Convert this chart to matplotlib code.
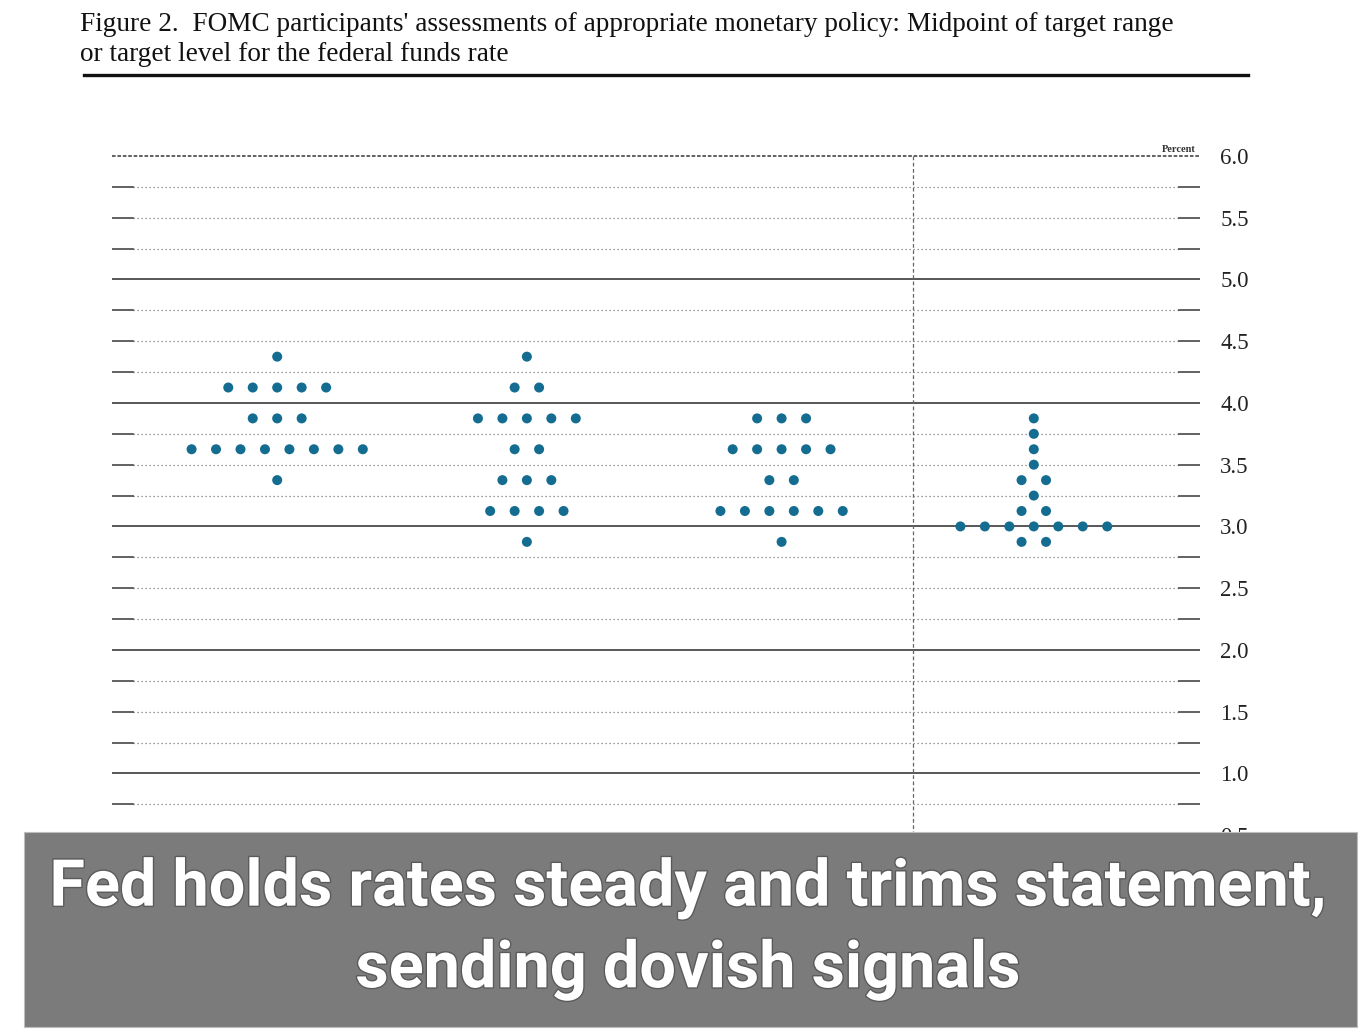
import matplotlib
matplotlib.use("Agg")
import matplotlib.pyplot as plt
import matplotlib.patheffects as pe
from matplotlib.lines import Line2D
from matplotlib.patches import Rectangle
import numpy as np

# ---------------- data ----------------
title_text = ("Figure 2.  FOMC participants' assessments of appropriate monetary policy: Midpoint of target range\n"
              "or target level for the federal funds rate")
banner_text = "Fed holds rates steady and trims statement,\nsending dovish signals"

col1_rates = [4.375, 4.125, 3.875, 3.625, 3.375]
col1_counts = [1, 5, 3, 8, 1]
col2_rates = [4.375, 4.125, 3.875, 3.625, 3.375, 3.125, 2.875]
col2_counts = [1, 2, 5, 2, 3, 4, 1]
col3_rates = [3.875, 3.625, 3.375, 3.125, 2.875]
col3_counts = [3, 5, 2, 6, 1]
col4_rates = [3.875, 3.75, 3.625, 3.5, 3.375, 3.25, 3.125, 3.0, 2.875]
col4_counts = [1, 1, 1, 1, 2, 1, 2, 7, 2]

column_positions = [1, 1.99, 3, 4]
label_ticks = [0.5, 1.0, 1.5, 2.0, 2.5, 3.0, 3.5, 4.0, 4.5, 5.0, 5.5, 6.0]
major_lines = [1.0, 2.0, 3.0, 4.0, 5.0]
minor_lines = [0.75, 1.25, 1.5, 1.75, 2.25, 2.5, 2.75, 3.25, 3.5, 3.75,
               4.25, 4.5, 4.75, 5.25, 5.5, 5.75]
top_line = 6.0
divider_x = 3.52

# ---------------- figure ----------------
W, H = 1364, 1033
fig = plt.figure(figsize=(W / 100, H / 100), dpi=100)
fig.patch.set_facecolor("white")

def fx(px):
    return px / W

def fy(py):
    return 1 - py / H

ax_left, ax_right, ax_top, ax_bottom = 112, 1200, 156, 866
ax = fig.add_axes([fx(ax_left), fy(ax_bottom), fx(ax_right - ax_left), (ax_bottom - ax_top) / H])
ax.set_xlim(0.345, 4.659)
ax.set_ylim(0.25, 6.0)
for s in ax.spines.values():
    s.set_visible(False)
ax.set_xticks([])

# right-hand labels
ax.yaxis.tick_right()
ax.set_yticks(label_ticks)
ax.set_yticklabels([f"{v:.1f}" for v in label_ticks])
ax.tick_params(axis="y", length=0, pad=14.5, labelsize=16.5, labelcolor="#222222")
for lab in ax.get_yticklabels():
    lab.set_family("Liberation Serif")

# gridlines
ax.axhline(top_line, color="#555555", lw=1.3, ls=(0, (2, 1)), clip_on=False, zorder=1)
for v in major_lines:
    ax.axhline(v, color="#4a4a4a", lw=1.3, zorder=1)
tick_frac = 21 / (ax_right - ax_left)
for v in minor_lines:
    ax.axhline(v, xmin=tick_frac, xmax=1 - tick_frac, color="#7a7a7a", lw=0.9,
               ls=(0, (1, 2.2)), zorder=1)
    ax.axhline(v, xmin=0, xmax=tick_frac, color="#555555", lw=1.3, zorder=1)
    ax.axhline(v, xmin=1 - tick_frac, xmax=1, color="#555555", lw=1.3, zorder=1)

ax.axvline(divider_x, color="#666666", lw=0.9, ls=(0, (3, 2)), zorder=1)

# dots
spacing = 0.097
dot_color = "#146d91"
columns = [(col1_rates, col1_counts), (col2_rates, col2_counts),
           (col3_rates, col3_counts), (col4_rates, col4_counts)]
for xc, (rates, counts) in zip(column_positions, columns):
    xs, ys = [], []
    for r, n in zip(rates, counts):
        for i in range(n):
            xs.append(xc + (i - (n - 1) / 2) * spacing)
            ys.append(r)
    ax.scatter(xs, ys, s=52, color=dot_color, edgecolor="none", zorder=3)

ax.text(0.996, 6.02, "Percent", transform=ax.get_yaxis_transform(), ha="right", va="bottom",
        fontsize=7.5, family="Liberation Serif", fontweight="bold", color="#333333")

# title
fig.text(fx(80), fy(12), title_text, ha="left", va="top", fontsize=19.6,
         family="Liberation Serif", color="#111111", linespacing=1.25)
fig.add_artist(Line2D([fx(84), fx(1248)], [fy(75), fy(75)], color="#111111", lw=2.4))

# banner
fig.add_artist(Rectangle((fx(24), fy(1027)), fx(1357 - 24), (1027 - 832) / H,
                         facecolor="#7b7b7b", edgecolor="#bdbdbd", lw=0.8, zorder=5))
fig.text(fx(688), fy(929), banner_text, ha="center", va="center", fontsize=46.6,
         family=["Liberation Sans Narrow", "Roboto", "DejaVu Sans"], fontweight="bold",
         color="white", linespacing=1.42, zorder=6,
         path_effects=[pe.withStroke(linewidth=2, foreground="#5a5a5a")])

fig.savefig("out.png", dpi=100, facecolor="white")
